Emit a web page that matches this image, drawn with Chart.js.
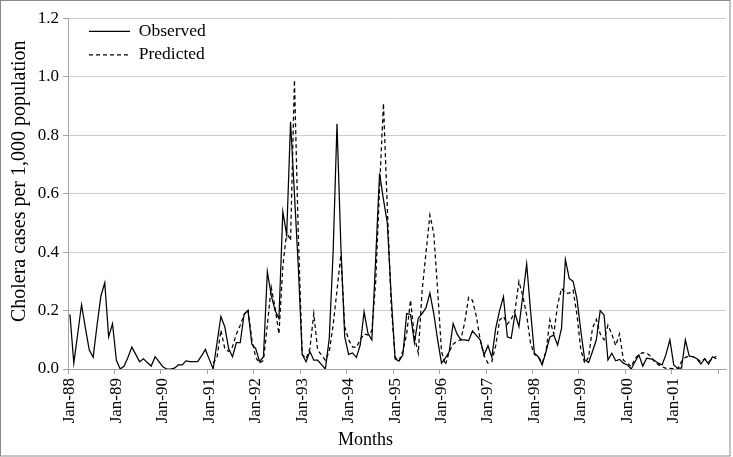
<!DOCTYPE html>
<html>
<head>
<meta charset="utf-8">
<script src="https://cdn.jsdelivr.net/npm/chart.js@4.4.1/dist/chart.umd.min.js"></script>
<style>
  html, body { margin: 0; padding: 0; background: #ffffff; }
  #wrap { width: 733px; height: 457px; position: relative; }
</style>
</head>
<body>
<div id="wrap"><canvas id="chart" width="733" height="457"></canvas></div>
<script>
// ---- Categories / tick labels ----
const monthNames = ['Jan','Feb','Mar','Apr','May','Jun','Jul','Aug','Sep','Oct','Nov','Dec'];
const yearSuffixes = ['88','89','90','91','92','93','94','95','96','97','98','99','00','01'];
const trailingMonths = ['Jan-02','Feb-02'];
const yTickValues = [0, 0.2, 0.4, 0.6, 0.8, 1.0, 1.2];

// ---- Observed cholera cases per 1,000 (monthly) ----
const observed1988 = [0.187, 0.02, 0.12, 0.22, 0.14, 0.065, 0.04, 0.15, 0.25, 0.295, 0.11, 0.155];
const observed1989 = [0.03, 0.0, 0.01, 0.04, 0.075, 0.05, 0.025, 0.035, 0.022, 0.01, 0.042, 0.025];
const observed1990 = [0.008, 0.0, 0.0, 0.003, 0.014, 0.014, 0.028, 0.025, 0.025, 0.025, 0.045, 0.067];
const observed1991 = [0.033, 0.0, 0.09, 0.18, 0.145, 0.07, 0.042, 0.09, 0.09, 0.188, 0.2, 0.085];
const observed1992 = [0.07, 0.025, 0.042, 0.333, 0.253, 0.2, 0.173, 0.539, 0.46, 0.847, 0.6, 0.35];
const observed1993 = [0.05, 0.025, 0.06, 0.03, 0.03, 0.015, 0.0, 0.105, 0.4, 0.84, 0.42, 0.11];
const observed1994 = [0.05, 0.055, 0.04, 0.082, 0.196, 0.122, 0.1, 0.38, 0.67, 0.58, 0.5, 0.25];
const observed1995 = [0.035, 0.027, 0.048, 0.19, 0.187, 0.09, 0.174, 0.19, 0.21, 0.26, 0.19, 0.1];
const observed1996 = [0.02, 0.037, 0.06, 0.156, 0.12, 0.1, 0.1, 0.097, 0.13, 0.115, 0.1, 0.048];
const observed1997 = [0.08, 0.04, 0.139, 0.2, 0.248, 0.11, 0.105, 0.19, 0.145, 0.25, 0.36, 0.2];
const observed1998 = [0.054, 0.042, 0.014, 0.06, 0.11, 0.116, 0.082, 0.139, 0.375, 0.31, 0.3, 0.24];
const observed1999 = [0.13, 0.031, 0.022, 0.06, 0.1, 0.2, 0.185, 0.031, 0.054, 0.028, 0.033, 0.02];
const observed2000 = [0.014, 0.0, 0.025, 0.048, 0.01, 0.037, 0.035, 0.03, 0.02, 0.014, 0.05, 0.1];
const observed2001 = [0.014, 0.003, 0.003, 0.1, 0.044, 0.042, 0.035, 0.017, 0.035, 0.017, 0.042, 0.035];

// ---- Predicted (model starts Feb-91) ----
const predicted1988 = [null, null, null, null, null, null, null, null, null, null, null, null];
const predicted1989 = [null, null, null, null, null, null, null, null, null, null, null, null];
const predicted1990 = [null, null, null, null, null, null, null, null, null, null, null, null];
const predicted1991 = [null, 0.02, 0.04, 0.133, 0.07, 0.06, 0.076, 0.12, 0.15, 0.185, 0.204, 0.1];
const predicted1992 = [0.04, 0.02, 0.03, 0.15, 0.28, 0.21, 0.12, 0.35, 0.47, 0.44, 0.99, 0.46];
const predicted1993 = [0.05, 0.035, 0.07, 0.19, 0.065, 0.048, 0.03, 0.06, 0.15, 0.27, 0.39, 0.145];
const predicted1994 = [0.1, 0.076, 0.074, 0.1, 0.12, 0.116, 0.13, 0.3, 0.62, 0.91, 0.55, 0.22];
const predicted1995 = [0.04, 0.028, 0.06, 0.12, 0.236, 0.11, 0.054, 0.27, 0.4, 0.527, 0.465, 0.27];
const predicted1996 = [0.06, 0.014, 0.06, 0.085, 0.095, 0.1, 0.16, 0.245, 0.235, 0.18, 0.1, 0.045];
const predicted1997 = [0.02, 0.025, 0.08, 0.168, 0.18, 0.154, 0.17, 0.2, 0.3, 0.25, 0.185, 0.088];
const predicted1998 = [0.05, 0.042, 0.02, 0.06, 0.168, 0.12, 0.22, 0.276, 0.26, 0.26, 0.27, 0.185];
const predicted1999 = [0.065, 0.02, 0.04, 0.14, 0.17, 0.12, 0.1, 0.15, 0.12, 0.08, 0.12, 0.03];
const predicted2000 = [0.02, 0.008, 0.035, 0.05, 0.056, 0.055, 0.044, 0.025, 0.015, 0.008, 0.002, 0.002];
const predicted2001 = [0.001, 0.0, 0.025, 0.04, 0.044, 0.042, 0.035, 0.025, 0.035, 0.025, 0.035, 0.044];

// ---- Build what the library needs ----
const categories = yearSuffixes
  .flatMap(y => monthNames.map(m => m + '-' + y))
  .concat(trailingMonths);
const observed = [].concat(observed1988, observed1989, observed1990, observed1991, observed1992,
  observed1993, observed1994, observed1995, observed1996, observed1997, observed1998,
  observed1999, observed2000, observed2001);
const predicted = [].concat(predicted1988, predicted1989, predicted1990, predicted1991, predicted1992,
  predicted1993, predicted1994, predicted1995, predicted1996, predicted1997, predicted1998,
  predicted1999, predicted2000, predicted2001);
const labelledMonths = yearSuffixes.length * 12;

const FONT = "'Liberation Serif', 'Times New Roman', serif";
const AXIS = '#a3a3a3';
const GRID = '#cdcdcd';
const NB = '\u00A0';

const pagePlugin = {
  id: 'page',
  beforeDraw(chart) {
    const c = chart.ctx;
    c.save(); c.fillStyle = '#ffffff'; c.fillRect(0, 0, chart.width, chart.height); c.restore();
  },
  afterDraw(chart) {
    const c = chart.ctx;
    c.save(); c.strokeStyle = '#8a8a8a'; c.lineWidth = 1;
    c.strokeRect(0.5, 0.5, chart.width - 3.5, chart.height - 1.5);
    c.restore();
  }
};

const legendInset = {
  id: 'legendInset',
  afterLayout(chart) {
    const lg = chart.legend;
    if (!lg) return;
    const dx = chart.chartArea.left + 15 - lg.left;
    const dy = chart.chartArea.top - 2 - lg.top;
    lg.left += dx; lg.right += dx; lg.top += dy; lg.bottom += dy;
  }
};

new Chart(document.getElementById('chart'), {
  type: 'line',
  data: {
    labels: categories,
    datasets: [
      {
        label: 'Observed',
        data: observed,
        borderColor: '#000000',
        backgroundColor: '#000000',
        borderWidth: 1.25,
        pointRadius: 0,
        tension: 0,
        fill: false
      },
      {
        label: 'Predicted',
        data: predicted,
        borderColor: '#000000',
        backgroundColor: '#000000',
        borderWidth: 1.25,
        borderDash: [4, 3],
        pointRadius: 0,
        tension: 0,
        fill: false
      }
    ]
  },
  options: {
    responsive: false,
    animation: false,
    devicePixelRatio: 1,
    layout: { padding: { left: 5, right: 7, top: 18.6, bottom: 2 } },
    plugins: {
      legend: {
        position: 'chartArea',
        align: 'start',
        labels: {
          usePointStyle: true,
          pointStyle: 'line',
          pointStyleWidth: 41,
          boxWidth: 41,
          color: '#000000',
          padding: 6,
          font: { family: FONT, size: 17.5 },
          generateLabels(chart) {
            const items = Chart.defaults.plugins.legend.labels.generateLabels(chart);
            items.forEach(item => {
              const ds = chart.data.datasets[item.datasetIndex];
              item.lineDash = ds.borderDash || [];
              item.lineWidth = ds.borderWidth;
              item.strokeStyle = ds.borderColor;
              item.pointStyle = 'line';
            });
            return items;
          }
        }
      },
      tooltip: { enabled: false }
    },
    scales: {
      x: {
        type: 'category',
        offset: true,
        grid: {
          offset: true,
          drawOnChartArea: false,
          drawTicks: true,
          tickLength: 5,
          tickColor: ctx => (ctx.index !== undefined && ctx.index % 12 === 0) ? AXIS : 'rgba(0,0,0,0)'
        },
        border: { color: AXIS },
        ticks: {
          autoSkip: false,
          maxRotation: 90,
          minRotation: 90,
          padding: 4,
          color: '#000000',
          font: { family: FONT, size: 17 },
          callback: (value, index) => (index % 12 === 0 && index < labelledMonths) ? categories[index] : ''
        },
        title: {
          display: true,
          text: 'Months' + NB.repeat(14),
          color: '#000000',
          font: { family: FONT, size: 18 },
          padding: { top: 4, bottom: 4 }
        },
        afterFit(scale) {
          scale.height = 86;
          scale.paddingLeft = 0;
          scale.paddingRight = 0;
        }
      },
      y: {
        min: 0,
        max: 1.2,
        afterBuildTicks(scale) { scale.ticks = yTickValues.map(v => ({ value: v })); },
        grid: { color: GRID, tickLength: 5, tickColor: AXIS },
        border: { color: AXIS },
        ticks: {
          padding: 4,
          color: '#000000',
          font: { family: FONT, size: 17 },
          callback: v => Number(v).toFixed(1)
        },
        title: {
          display: true,
          text: NB.repeat(5) + 'Cholera cases per 1,000 population',
          color: '#000000',
          font: { family: FONT, size: 20 },
          padding: { top: 3, bottom: 3 }
        },
        afterFit(scale) { scale.width = 63; }
      }
    }
  },
  plugins: [pagePlugin, legendInset]
});
</script>
</body>
</html>
